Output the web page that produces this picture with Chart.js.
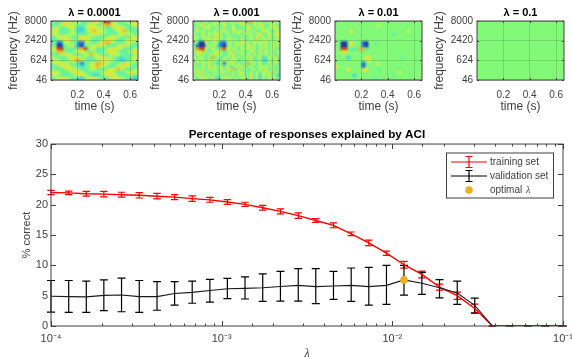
<!DOCTYPE html>
<html>
<head>
<meta charset="utf-8">
<script src="https://cdn.jsdelivr.net/npm/chart.js"></script>
<style>
    html, body { margin: 0; padding: 0; background: #fff; }
    #page { position: relative; width: 572px; height: 358px; overflow: hidden; filter: blur(0.45px); }
    canvas { position: absolute; }
</style>
</head>
<body>
<div id="page"></div>
<script>
// heatmap panels
const panelTitles = ['λ = 0.0001', 'λ = 0.001', 'λ = 0.01', 'λ = 0.1']
const panelLefts = [51, 193, 335, 477]
const freqLabels = ['46', '624', '2420', '8000']
const timeTicks = [0.2, 0.4, 0.6]
// jet-like colours, index is the digit in the rows below
const jet = ['#0000c0', '#0048ff', '#30d0f8', '#60f0b0', '#82fa78', '#c4f850', '#ffe030', '#ffa820', '#e01010']

const rows0001 = [
    '53345664553345664788653345566',
    '33456655433456543677655433456',
    '45533456322456655433456654334',
    '56433345322356765543345674433',
    '65534455433345665533334565543',
    '34566543356654433345655433456',
    '33455664456654334566543345665',
    '34115543311453345677543345543',
    '43003456210345566543335665433',
    '56884433477845533345665533345',
    '45774334566534433456654334566',
    '33456654334567654334565433345',
    '54433456654433456655433233456',
    '65534456775433345665533223455',
    '45665534321345677654334566543',
    '33456654332345676543345665433',
    '44334566543345543345667543345',
    '66543345665433334566543345665',
    '55433334566543223456654333443',
    '34566543322456654334566543322'
]
const rows001 = [
    '45345345546345456377545345455',
    '34563545345435345453545634543',
    '46345534536345433465354535464',
    '35453445354536456353534654345',
    '53463545643534453545356345456',
    '45354536453453435345364536345',
    '54345465453545436345463545354',
    '34006345311453546453545463545',
    '41004545210453545364535453545',
    '47885354378545435454535453543',
    '46645345543463545345436354535',
    '35453546453456345353635453534',
    '53543473534535453546345235463',
    '45453645346354525345345225354',
    '36354534251546353474535345363',
    '53453645453534546345345453534',
    '45353545353647353534535463534',
    '54635345365345365345353545363',
    '35463535343635354536352546342',
    '53545363255453535436352535453'
]
const rows01 = [
    '44444444444444444444444444444',
    '44444444444444544444444444444',
    '44444444444444444444444444444',
    '44444644444444444444444454444',
    '44444444444444444443444444444',
    '44444444444444444444444444444',
    '44444444444444444444444444444',
    '44004644410443444444444444444',
    '44004644410444444444444444444',
    '44884333773444444444444444444',
    '44664444444444444444444444444',
    '44444444444444444444444444444',
    '44442444446644444444443444444',
    '44444444444544444444444444444',
    '44444444414444544444444444444',
    '64444444414444444444444444444',
    '44446444466444344444444444444',
    '44444444444444444444454444444',
    '44444424444444444443444444444',
    '44444444444443444444444444444'
]
const rows1 = []
const panelRows = [rows0001, rows001, rows01, rows1]

// lower chart
const lambdas = [1e-4, 1.27e-4, 1.61e-4, 2.04e-4, 2.59e-4, 3.29e-4, 4.18e-4, 5.30e-4, 6.72e-4, 8.53e-4,
    1.08e-3, 1.37e-3, 1.74e-3, 2.21e-3, 2.81e-3, 3.56e-3, 4.52e-3, 5.74e-3, 7.28e-3, 9.24e-3,
    1.17e-2, 1.49e-2, 1.89e-2, 2.40e-2, 3.04e-2, 3.86e-2, 4.89e-2, 6.21e-2, 7.88e-2, 1e-1]
const trainMean = [22, 21.95, 21.8, 21.75, 21.65, 21.55, 21.4, 21.25, 21, 20.8,
    20.45, 20.05, 19.5, 18.9, 18.2, 17.4, 16.6, 15.2, 13.7, 12,
    10.1, 8.5, 6.4, 5, 2.9, 0, 0, 0, 0, 0]
const trainErr = [0.35, 0.3, 0.4, 0.45, 0.4, 0.45, 0.45, 0.4, 0.45, 0.4,
    0.4, 0.35, 0.4, 0.4, 0.45, 0.3, 0.4, 0.3, 0.45, 0.35,
    0.55, 0.55, 0.5, 0.6, 0.7, 0, 0, 0, 0, 0]
const valMean = [4.9, 4.85, 4.8, 5.05, 5.1, 4.85, 4.85, 5.35, 5.55, 5.85,
    6.15, 6.2, 6.3, 6.5, 6.7, 6.5, 6.6, 6.7, 6.5, 6.7,
    7.6, 7.05, 6.3, 5.45, 3.4, 0, 0, 0, 0, 0]
const valLow = [2.3, 2.25, 2.25, 2.55, 2.35, 2.25, 2.6, 3.45, 3.75, 3.95,
    4.5, 4.45, 4.05, 4.1, 4.1, 3.7, 4.4, 4.05, 3.45, 3.55,
    5.1, 5.2, 4.65, 3.55, 2.1, 0, 0, 0, 0, 0]
const valHigh = [7.5, 7.5, 7.4, 7.6, 7.9, 7.5, 7.3, 7.3, 7.4, 7.7,
    7.85, 8.1, 8.6, 9, 9.45, 9.45, 9, 9.56, 9.67, 10,
    10, 8.85, 7.65, 7.4, 4.6, 0, 0, 0, 0, 0]
const optimalLambda = 1.17e-2
const optimalValue = 7.6
const decadeLabels = { '-4': '10⁻⁴', '-3': '10⁻³', '-2': '10⁻²', '-1': '10⁻¹' }
const legendLabels = ['training set', 'validation set', 'optimal ']

const FONT = '"Liberation Sans", Arial, sans-serif'
const AXIS = '#404040'
const RED = '#ff0000'
const ORANGE = '#edb120'

Chart.defaults.font.family = FONT
Chart.defaults.animation = false
Chart.defaults.responsive = false

function addCanvas(left, top, width, height) {
    const c = document.createElement('canvas')
    c.width = width
    c.height = height
    c.style.left = left + 'px'
    c.style.top = top + 'px'
    c.style.width = width + 'px'
    c.style.height = height + 'px'
    document.getElementById('page').appendChild(c)
    return c
}

// matlab style box: frame + ticks pointing inward on all 4 sides
function boxPlugin(len, minorLen) {
    return {
        id: 'box',
        afterDraw(chart) {
            const { ctx, chartArea: a, scales } = chart
            ctx.save()
            ctx.strokeStyle = AXIS
            ctx.lineWidth = 1
            ctx.strokeRect(a.left, a.top, a.right - a.left, a.bottom - a.top)
            ctx.beginPath()
            scales.x.ticks.forEach(t => {
                const x = Math.round(scales.x.getPixelForValue(t.value)) + 0.5
                const exp = Math.log10(t.value)
                const l = (minorLen && Math.abs(exp - Math.round(exp)) > 1e-6) ? minorLen : len
                ctx.moveTo(x, a.bottom); ctx.lineTo(x, a.bottom - l)
                ctx.moveTo(x, a.top); ctx.lineTo(x, a.top + l)
            })
            scales.y.ticks.forEach(t => {
                const y = Math.round(scales.y.getPixelForValue(t.value)) + 0.5
                ctx.moveTo(a.left, y); ctx.lineTo(a.left + len, y)
                ctx.moveTo(a.right, y); ctx.lineTo(a.right - len, y)
            })
            ctx.stroke()
            ctx.restore()
        }
    }
}

// fill the plot with the zero colour and soften the cells
const heatPlugin = {
    id: 'heat',
    beforeDatasetsDraw(chart) {
        const { ctx, chartArea: a } = chart
        ctx.save()
        ctx.fillStyle = jet[4]
        ctx.fillRect(a.left, a.top, a.right - a.left, a.bottom - a.top)
        ctx.filter = 'blur(0.8px)'
    },
    afterDatasetsDraw(chart) {
        chart.ctx.restore()
    }
}

panelTitles.forEach((title, p) => {
    const rows = panelRows[p]
    const cells = []
    const colors = []
    rows.forEach((row, r) => {
        row.split('').forEach((d, col) => {
            if (d === '4') return
            cells.push({ x: (col + 0.5) * 0.66 / 29, y: 3 * (1 - (r + 0.5) / 20) })
            colors.push(jet[+d])
        })
    })
    new Chart(addCanvas(panelLefts[p] - 45, 0, 177, 114), {
        type: 'scatter',
        data: {
            datasets: [{
                data: cells,
                pointStyle: 'rect',
                pointRadius: 2.3,
                pointBorderWidth: 0,
                pointBackgroundColor: colors
            }]
        },
        options: {
            layout: { autoPadding: false, padding: { right: 45 } },
            plugins: {
                legend: { display: false },
                tooltip: { enabled: false },
                title: {
                    display: true, text: title, color: '#000', fullSize: false,
                    font: { size: 11, weight: 'bold' },
                    padding: { top: 6, bottom: 1.8 }
                }
            },
            scales: {
                x: {
                    min: 0, max: 0.66,
                    afterBuildTicks: s => { s.ticks = timeTicks.map(v => ({ value: v })) },
                    afterFit: s => { s.height = 34 },
                    grid: { color: 'rgba(50,50,50,0.18)', z: 1, drawTicks: false },
                    border: { display: false },
                    ticks: { color: AXIS, font: { size: 10 }, padding: 9, maxRotation: 0, callback: v => v.toFixed(1) },
                    title: { display: true, text: 'time (s)', color: AXIS, font: { size: 12 }, padding: { top: 1, bottom: 0 } }
                },
                y: {
                    min: 0, max: 3,
                    afterBuildTicks: s => { s.ticks = freqLabels.map((l, i) => ({ value: i })) },
                    afterFit: s => { s.width = 45 },
                    grid: { color: 'rgba(50,50,50,0.18)', z: 1, drawTicks: false },
                    border: { display: false },
                    ticks: { color: AXIS, font: { size: 10 }, padding: 4, callback: v => freqLabels[v] },
                    title: { display: true, text: 'frequency (Hz)', color: AXIS, font: { size: 12 }, padding: 0 }
                }
            }
        },
        plugins: [heatPlugin, boxPlugin(2, 0)]
    })
})

function drawBars(chart, low, high, color, cap) {
    const { ctx, scales } = chart
    ctx.strokeStyle = color
    ctx.lineWidth = 1.2
    ctx.beginPath()
    lambdas.forEach((l, i) => {
        const x = scales.x.getPixelForValue(l)
        const y0 = scales.y.getPixelForValue(low[i])
        const y1 = scales.y.getPixelForValue(high[i])
        ctx.moveTo(x, y0); ctx.lineTo(x, y1)
        ctx.moveTo(x - cap, y0); ctx.lineTo(x + cap, y0)
        ctx.moveTo(x - cap, y1); ctx.lineTo(x + cap, y1)
    })
    ctx.stroke()
}

const barsPlugin = {
    id: 'bars',
    beforeDatasetsDraw(chart) {
        chart.ctx.save()
        drawBars(chart, trainMean.map((v, i) => v - trainErr[i]), trainMean.map((v, i) => v + trainErr[i]), RED, 3.7)
        drawBars(chart, valLow, valHigh, '#000', 4)
        chart.ctx.restore()
    }
}

// legend is done by hand because of the error bar glyphs
const legendPlugin = {
    id: 'aciLegend',
    afterDraw(chart) {
        const { ctx } = chart
        const rowY = [37, 51, 65]
        ctx.save()
        ctx.fillStyle = '#fff'
        ctx.strokeStyle = AXIS
        ctx.lineWidth = 1
        ctx.fillRect(446.5, 28, 107, 45)
        ctx.strokeRect(446.5, 28, 107, 45)
        ;[RED, '#000'].forEach((color, i) => {
            const y = rowY[i]
            ctx.strokeStyle = color
            ctx.lineWidth = 1.2
            ctx.beginPath()
            ctx.moveTo(451, y); ctx.lineTo(487, y)
            ctx.moveTo(469, y - 5.5); ctx.lineTo(469, y + 5.5)
            ctx.moveTo(465.5, y - 5.5); ctx.lineTo(472.5, y - 5.5)
            ctx.moveTo(465.5, y + 5.5); ctx.lineTo(472.5, y + 5.5)
            ctx.stroke()
        })
        ctx.fillStyle = ORANGE
        ctx.beginPath()
        ctx.arc(469, rowY[2], 3.8, 0, Math.PI * 2)
        ctx.fill()
        ctx.fillStyle = AXIS
        ctx.font = '10px ' + FONT
        ctx.textBaseline = 'middle'
        legendLabels.forEach((t, i) => ctx.fillText(t, 490, rowY[i]))
        const w = ctx.measureText(legendLabels[2]).width
        ctx.font = 'italic 10px "Liberation Serif", serif'
        ctx.fillText('λ', 490 + w + 1, rowY[2])
        ctx.restore()
    }
}

new Chart(addCanvas(0, 125, 614, 236), {
    type: 'line',
    data: {
        labels: lambdas,
        datasets: [
            {
                label: 'optimal λ', data: [{ x: optimalLambda, y: optimalValue }],
                showLine: false, pointRadius: 3.8, pointBorderWidth: 0, pointBackgroundColor: ORANGE
            },
            {
                label: 'validation set', data: lambdas.map((l, i) => ({ x: l, y: valMean[i] })),
                borderColor: '#1a1a1a', borderWidth: 1.1, pointRadius: 0, tension: 0
            },
            {
                label: 'training set', data: lambdas.map((l, i) => ({ x: l, y: trainMean[i] })),
                borderColor: RED, borderWidth: 1.4, pointRadius: 0, tension: 0
            }
        ]
    },
    options: {
        layout: { autoPadding: false, padding: { right: 51 } },
        plugins: {
            legend: { display: false },
            tooltip: { enabled: false },
            title: {
                display: true, text: 'Percentage of responses explained by ACI', color: '#000', fullSize: false,
                font: { size: 11.7, weight: 'bold' },
                padding: { top: 3, bottom: 2 }
            }
        },
        scales: {
            x: {
                type: 'logarithmic', min: 1e-4, max: 1e-1,
                afterFit: s => { s.height = 35 },
                grid: { display: false, drawTicks: false, tickLength: 0 },
                border: { display: false },
                ticks: {
                    color: AXIS, font: { size: 11 }, padding: 6, autoSkip: false, maxRotation: 0,
                    callback: v => Math.abs(Math.log10(v) - Math.round(Math.log10(v))) < 1e-6 ? decadeLabels[Math.round(Math.log10(v))] : ''
                },
                title: { display: true, text: 'λ', color: AXIS, font: { size: 12, style: 'italic', family: '"Liberation Serif", serif' }, padding: { top: 0, bottom: 0 } }
            },
            y: {
                min: 0, max: 30,
                afterFit: s => { s.width = 51 },
                grid: { display: false, drawTicks: false, tickLength: 0 },
                border: { display: false },
                ticks: { color: AXIS, font: { size: 11 }, padding: 3, stepSize: 5 },
                title: { display: true, text: '% correct', color: AXIS, font: { size: 11 }, padding: { top: 20, bottom: 0 } }
            }
        }
    },
    plugins: [barsPlugin, boxPlugin(5, 2.5), legendPlugin]
})
</script>
</body>
</html>
